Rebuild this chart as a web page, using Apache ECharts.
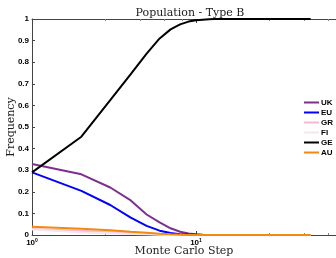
<!DOCTYPE html>
<html>
<head>
<meta charset="utf-8">
<script src="https://cdn.jsdelivr.net/npm/echarts@6/dist/echarts.min.js"></script>
<style>
  html, body { margin: 0; padding: 0; background: #fff; }
  #chart { width: 336px; height: 258px; }
</style>
</head>
<body>
<div id="chart"></div>
<script>
// Monte Carlo steps (log x axis)
var steps = [1, 2, 3, 4, 5, 6, 7, 8, 9, 10, 11, 12, 13, 14, 20, 30, 40, 50];
var ukData = [0.329, 0.281, 0.220, 0.160, 0.095, 0.058, 0.031, 0.015, 0.007, 0.003, 0.001, 0, 0, 0, 0, 0, 0, 0];
var euData = [0.290, 0.204, 0.139, 0.080, 0.042, 0.020, 0.009, 0.004, 0.002, 0.001, 0, 0, 0, 0, 0, 0, 0, 0];
var grData = [0.028, 0.020, 0.014, 0.009, 0.005, 0.003, 0.001, 0, 0, 0, 0, 0, 0, 0, 0, 0, 0, 0];
var fiData = [0.025, 0.012, 0.008, 0.005, 0.003, 0.001, 0, 0, 0, 0, 0, 0, 0, 0, 0, 0, 0, 0];
var geData = [0.290, 0.455, 0.624, 0.745, 0.840, 0.910, 0.952, 0.975, 0.988, 0.994, 0.997, 0.999, 1, 1, 1, 1, 1, 1];
var auData = [0.038, 0.029, 0.022, 0.015, 0.010, 0.006, 0.003, 0.001, 0, 0, 0, 0, 0, 0, 0, 0, 0, 0];

var names = ['UK', 'EU', 'GR', 'FI', 'GE', 'AU'];
var colors = ['#7e2f8e', '#0000ff', '#f7b6cf', '#f3e6ee', '#000000', '#f08a10'];
var allData = [ukData, euData, grData, fiData, geData, auData];

function pairs(vals) {
  return steps.map(function (s, i) { return [s, vals[i]]; });
}

var series = names.map(function (n, k) {
  return {
    name: n,
    type: 'line',
    symbol: 'none',
    data: pairs(allData[k]),
    lineStyle: { color: colors[k], width: 2 },
    itemStyle: { color: colors[k] }
  };
});

var axisColor = '#444';
var chart = echarts.init(document.getElementById('chart'));
chart.setOption({
  animation: false,
  title: {
    text: 'Population - Type B',
    left: 185,
    top: 3,
    textAlign: 'center',
    textStyle: { fontFamily: 'DejaVu Serif', fontSize: 11, fontWeight: 'normal', color: '#222' }
  },
  legend: {
    orient: 'vertical',
    left: 304,
    top: 98,
    icon: 'rect',
    itemWidth: 15,
    itemHeight: 2,
    itemGap: 1,
    padding: 0,
    data: names,
    textStyle: { fontFamily: 'Liberation Sans', fontSize: 8, fontWeight: 'bold', color: '#000', lineHeight: 9, padding: [0, 0, 0, -3] }
  },
  grid: { left: 32, top: 19, right: -24, bottom: 23, outerBoundsMode: 'none', containLabel: false },
  xAxis: [{
    type: 'log',
    logBase: 10,
    min: 1,
    max: 100,
    name: 'Monte Carlo Step',
    nameLocation: 'middle',
    nameGap: 11,
    nameMoveOverlap: false,
    nameTextStyle: { fontFamily: 'DejaVu Serif', fontSize: 11, color: '#222', padding: [0, 0, 0, -24] },
    axisLine: { lineStyle: { color: axisColor } },
    axisTick: { inside: true, length: 4, lineStyle: { color: axisColor } },
    minorTick: { show: true, length: 2, lineStyle: { color: '#888' } },
    splitLine: { show: false },
    axisLabel: {
      margin: 3,
      formatter: function (v) { return '{b|10}{s|' + Math.round(Math.log10(v)) + '}'; },
      rich: {
        b: { fontFamily: 'Liberation Sans', fontSize: 8, fontWeight: 'bold', color: '#000' },
        s: { fontFamily: 'Liberation Sans', fontSize: 5, fontWeight: 'bold', color: '#000', verticalAlign: 'top', padding: [0, 0, 4, 0] }
      }
    }
  }, {
    type: 'log',
    logBase: 10,
    min: 1,
    max: 100,
    position: 'top',
    axisLine: { lineStyle: { color: axisColor } },
    axisTick: { inside: true, length: 4, lineStyle: { color: axisColor } },
    minorTick: { show: true, length: 2, lineStyle: { color: '#888' } },
    axisLabel: { show: false },
    splitLine: { show: false }
  }],
  yAxis: [{
    type: 'value',
    min: 0,
    max: 1,
    interval: 0.1,
    name: 'Frequency',
    nameLocation: 'middle',
    nameGap: 15,
    nameMoveOverlap: false,
    nameTextStyle: { fontFamily: 'DejaVu Serif', fontSize: 11, color: '#222' },
    axisLine: { show: true, lineStyle: { color: axisColor } },
    axisTick: { show: true, inside: true, length: 3, lineStyle: { color: axisColor } },
    splitLine: { show: false },
    axisLabel: {
      margin: 3,
      fontFamily: 'Liberation Sans', fontSize: 8, fontWeight: 'bold', color: '#000',
      formatter: function (v) { return String(Math.round(v * 10) / 10); }
    }
  }],
  series: series
});
</script>
</body>
</html>
